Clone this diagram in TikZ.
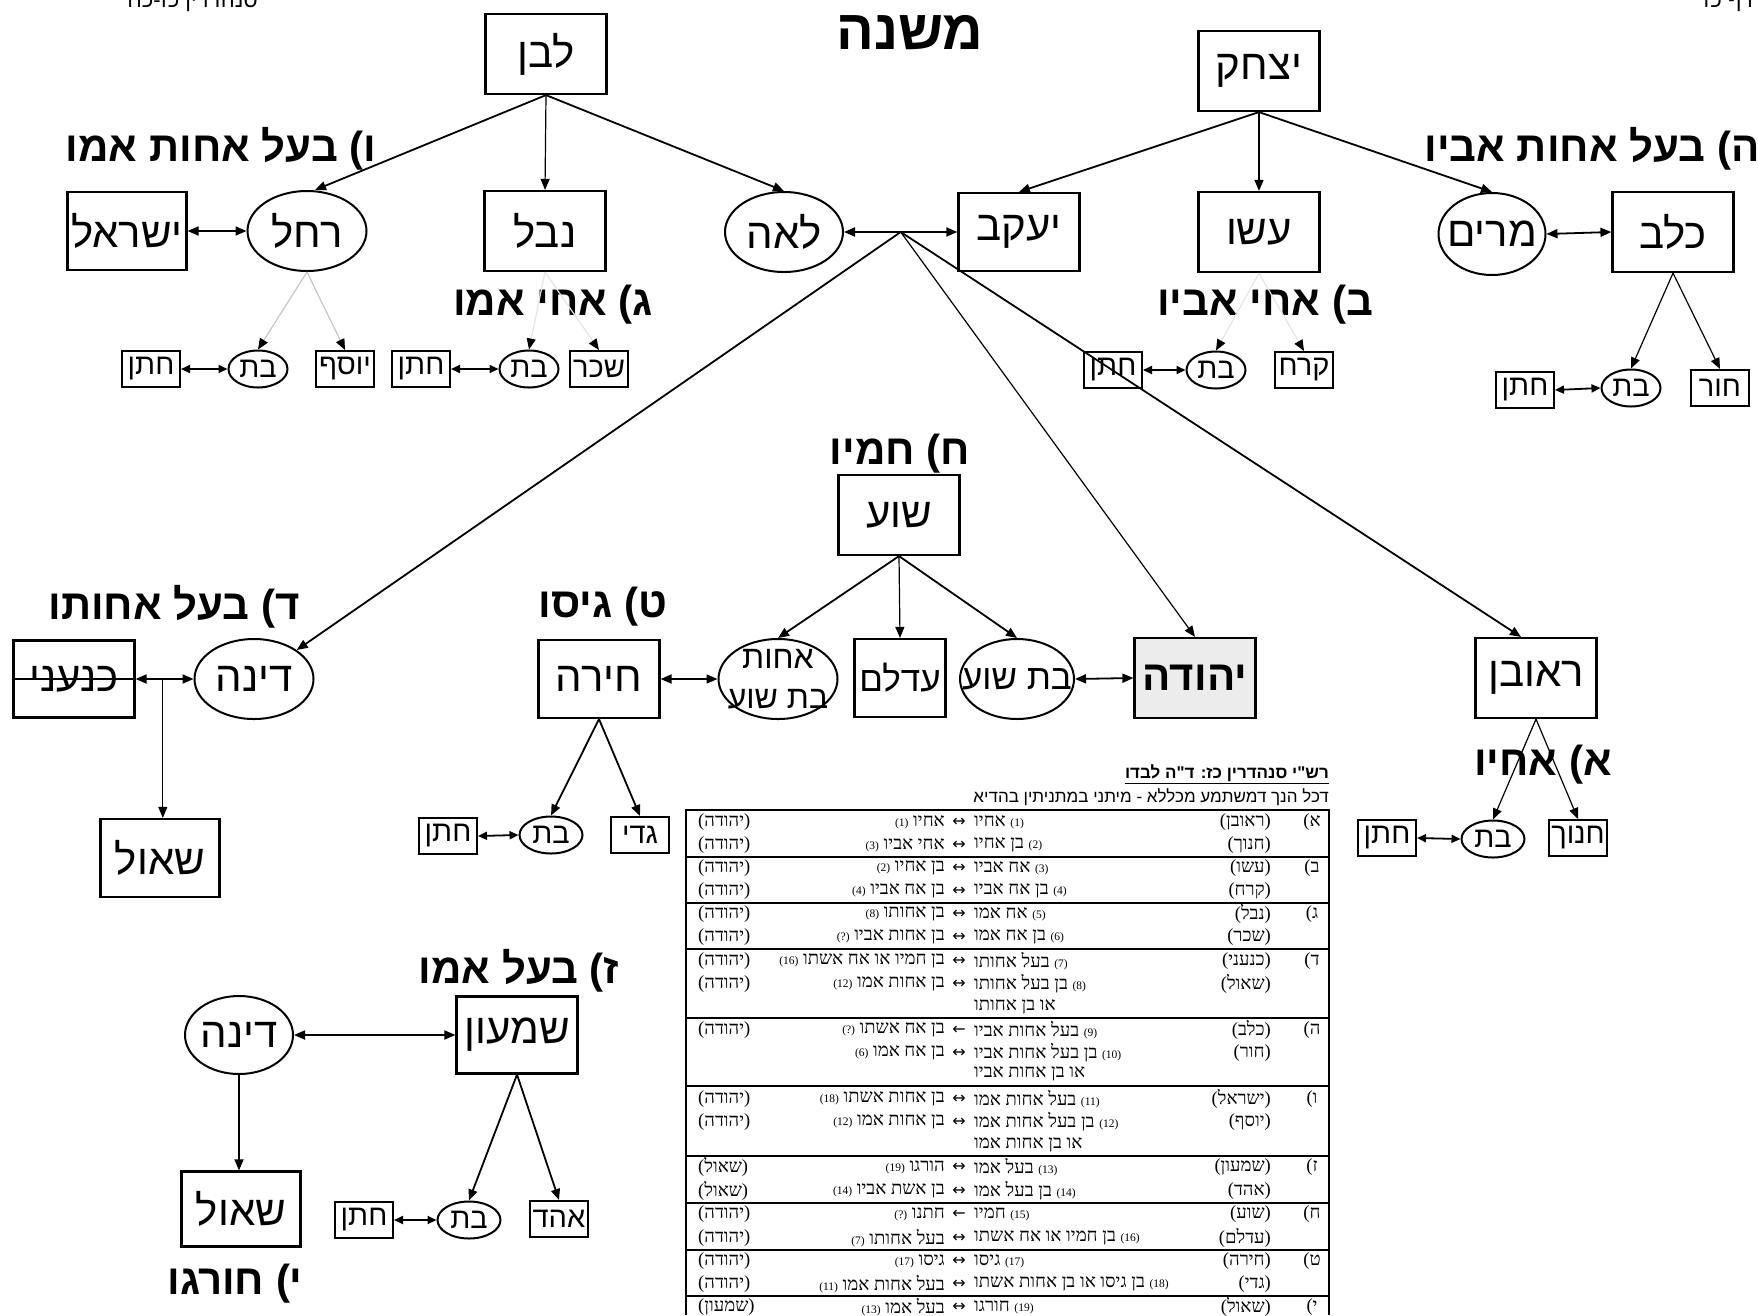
\documentclass[tikz,border=0pt]{standalone}
\usepackage{fontspec}
\TeXXeTstate=1
\newfontfamily\hebsans[Script=Hebrew]{Liberation Sans}
\newfontfamily\hebserif[Script=Hebrew]{Liberation Serif}
\newfontfamily\symf{DejaVu Sans}
\usetikzlibrary{positioning,arrows.meta,shapes.geometric}

\newcommand{\bigf}{\hebsans\fontsize{42}{48}\selectfont}
\newcommand{\smf}{\hebsans\fontsize{29}{34}\selectfont}
\newcommand{\lblf}{\hebsans\bfseries\fontsize{42}{48}\selectfont}
\newcommand{\tabf}{\hebserif\fontsize{18.5}{21}\selectfont}
\newcommand{\hz}[1]{\makebox[0pt]{\beginR #1\endR}}
\newcommand{\hb}[1]{\beginR #1\endR}
\newcommand{\nr}[1]{{\fontsize{11.5}{13}\selectfont(#1)}}

\begin{document}
\begin{tikzpicture}[x=1pt,y=-1pt,
    box/.style={draw, line width=2.2pt, minimum width=121pt, minimum height=80pt, inner sep=0pt, font=\bigf},
    oval/.style={draw, ellipse, line width=2pt, minimum width=119pt, minimum height=80pt, inner sep=0pt, font=\bigf},
    sbox/.style={draw, line width=2pt, minimum width=58pt, minimum height=36pt, inner sep=0pt, font=\smf},
    soval/.style={draw, ellipse, line width=2pt, minimum width=59pt, minimum height=37pt, inner sep=0pt, font=\smf},
    lbl/.style={font=\lblf, inner sep=0pt},
    tcell/.style={font=\tabf, inner sep=1pt},
    arr/.style={line width=1.8pt, -{Triangle[length=11pt,width=9pt]}},
    tarr/.style={line width=1.2pt, -{Triangle[length=11pt,width=9pt]}},
    garr/.style={line width=1.2pt, draw=gray!45, -{Triangle[length=11pt,width=9pt,color=black]}},
    farr/.style={line width=1.2pt, draw=gray!20, -{Triangle[length=11pt,width=9pt,color=black]}},
    darr/.style={line width=1.8pt, {Triangle[length=11pt,width=9pt]}-{Triangle[length=11pt,width=9pt]}},
    sdarr/.style={line width=1.8pt, {Triangle[length=9pt,width=8pt]}-{Triangle[length=9pt,width=8pt]}}]
        \useasboundingbox (0,0) rectangle (1758,1315);

        % page heads, cut by the page edge
        \draw (258,7) node[anchor=base east, inner sep=0pt, font=\hebsans\fontsize{22}{26}\selectfont] (pgl) {\hb{סנהדרין כז-כח}};
        \draw (1703,7) node[anchor=base west, inner sep=0pt, font=\hebsans\fontsize{22}{26}\selectfont] (pgr) {\hb{דף כז}};

        \draw (910,33) node[lbl, font=\hebsans\bfseries\fontsize{56}{60}\selectfont] (title) {\hb{משנה}};

        % top rows
        \draw (546,54) node[box] (lavan) {\hz{לבן}};
        \draw (1259,71) node[box] (yitzchak) {\hz{יצחק}};

        \draw (127,231) node[box, minimum width=119pt, minimum height=78pt] (yisrael) {\hz{ישראל}};
        \draw (307,231) node[oval] (rachel) {\hz{רחל}};
        \draw (545,231) node[box] (naval) {\hz{נבל}};
        \draw (784,232) node[oval, minimum width=118pt] (leah) {\hz{לאה}};
        \draw (1019,232) node[box, minimum height=78pt] (yaakov) {\hz{יעקב}};
        \draw (1259,232) node[box] (esav) {\hz{עשו}};
        \draw (1492,234) node[oval, minimum width=107pt, minimum height=82pt] (miriam) {\hz{מרים}};
        \draw (1673,232) node[box] (kalev) {\hz{כלב}};

        \draw (221,149) node[lbl] (lv) {\hb{ו) בעל אחות אמו}};
        \draw (1592,149) node[lbl] (lh) {\hb{ה) בעל אחות אביו}};
        \draw (553,305) node[lbl] (lg) {\hb{ג) אחי אמו}};
        \draw (1265,305) node[lbl] (lb) {\hb{ב) אחי אביו}};

        \draw (151,369) node[sbox] (chatan1) {\hz{חתן}};
        \draw (258,369) node[soval] (bat1) {\hz{בת}};
        \draw (345,369) node[sbox] (yosef) {\hz{יוסף}};
        \draw (421,369) node[sbox] (chatan2) {\hz{חתן}};
        \draw (529,369) node[soval] (bat2) {\hz{בת}};
        \draw (599,369) node[sbox] (sachar) {\hz{שכר}};
        \draw (1113,370) node[sbox] (chatan3) {\hz{חתן}};
        \draw (1216,370) node[soval] (bat3) {\hz{בת}};
        \draw (1304,370) node[sbox] (korach) {\hz{קרח}};
        \draw (1525,390) node[sbox] (chatan4) {\hz{חתן}};
        \draw (1631,388) node[soval] (bat4) {\hz{בת}};
        \draw (1720,388) node[sbox] (chur) {\hz{חור}};

        % middle rows
        \draw (900,454) node[lbl] (lch) {\hb{ח) חמיו}};
        \draw (899,515) node[box] (shua) {\hz{שוע}};

        \draw (174,607) node[lbl] (ld) {\hb{ד) בעל אחותו}};
        \draw (603,607) node[lbl] (lt) {\hb{ט) גיסו}};
        \draw (74,679) node[box, minimum height=77pt] (kenaani) {\hz{כנעני}};
        \draw (254,679) node[oval] (dina1) {\hz{דינה}};
        \draw (160,858) node[box, minimum width=119pt, minimum height=78pt] (shaul1) {\hz{שאול}};
        \draw (599,679) node[box, minimum height=78pt] (chira) {\hz{חירה}};
        \draw (778,679) node[oval, font=\hebsans\fontsize{32}{40}\selectfont] (achot)
        {\makebox[0pt]{\smash{\raisebox{-8pt}{\begin{tabular}{@{}c@{}}\hb{אחות}\\\hb{בת שוע}\end{tabular}}}}};
        \draw (900,678) node[box, minimum width=91pt, minimum height=78pt, font=\hebsans\fontsize{35}{40}\selectfont] (adlam) {\hz{עדלם}};
        \draw (1017,679) node[oval, minimum width=114pt, font=\hebsans\fontsize{35}{40}\selectfont] (batshua) {\hz{בת שוע}};
        \draw (1195,678) node[box, fill=gray!15, font=\bigf\bfseries] (yehuda) {\hz{יהודה}};
        \draw (1536,678) node[box] (reuven) {\hz{ראובן}};
        \draw (1543,765) node[lbl] (la) {\hb{א) אחיו}};

        \draw (448,836) node[sbox] (chatan5) {\hz{חתן}};
        \draw (551,835) node[soval, minimum width=63pt] (bat5) {\hz{בת}};
        \draw (640,835) node[sbox] (gadi) {\hz{גדי}};
        \draw (1387,838) node[sbox] (chatan6) {\hz{חתן}};
        \draw (1493,839) node[soval, minimum width=63pt] (bat6) {\hz{בת}};
        \draw (1578,838) node[sbox] (chanoch) {\hz{חנוך}};

        % lower left
        \draw (519,971) node[lbl] (lz) {\hb{ז) בעל אמו}};
        \draw (239,1035) node[oval, minimum width=108pt, minimum height=78pt] (dina2) {\hz{דינה}};
        \draw (517,1035) node[box, minimum height=77pt] (shimon) {\hz{שמעון}};
        \draw (241,1209) node[box, minimum width=119pt, minimum height=75pt] (shaul2) {\hz{שאול}};
        \draw (364,1220) node[sbox] (chatan7) {\hz{חתן}};
        \draw (469,1220) node[soval, minimum width=63pt] (bat7) {\hz{בת}};
        \draw (559,1219) node[sbox] (ahad) {\hz{אהד}};
        \draw (235,1284) node[lbl] (ly) {\hb{י) חורגו}};

        % connectors
        \draw[arr] (lavan.south) to ([xshift=8pt]rachel.north);
        \draw[tarr] (lavan.south) to (naval.north);
        \draw[arr] (lavan.south) to (leah.north);
        \draw[arr] (yitzchak.south) to (yaakov.north);
        \draw[tarr] (yitzchak.south) to (esav.north);
        \draw[arr] (yitzchak.south) to (miriam.north);
        \draw[darr] (yisrael.east) to (rachel.west);
        \draw[darr] (miriam.east) to (kalev.west);
        \draw[darr] (leah.east) -- coordinate (J) (yaakov.west);

        \draw[arr] (J) to (dina1.north east);
        \draw[tarr] (J) to (yehuda.north);
        \draw[arr] (J) to ([xshift=-15pt]reuven.north);

        \draw[garr] (rachel.south) to (bat1.north);
        \draw[garr] (rachel.south) to (yosef.north);
        \draw[farr] (naval.south) to (bat2.north);
        \draw[farr] (naval.south) to (sachar.north);
        \draw[farr] (esav.south) to (bat3.north);
        \draw[farr] (esav.south) to (korach.north);
        \draw[tarr] (kalev.south) to (bat4.north);
        \draw[tarr] (kalev.south) to (chur.north);
        \draw[sdarr] (bat1.west) to (chatan1.east);
        \draw[sdarr] (bat2.west) to (chatan2.east);
        \draw[sdarr] (bat3.west) to (chatan3.east);
        \draw[sdarr] (bat4.west) to (chatan4.east);

        \draw[arr] (shua.south) to (achot.north);
        \draw[tarr] (shua.south) to (adlam.north);
        \draw[arr] (shua.south) to (batshua.north);
        \draw[darr] (chira.east) to (achot.west);
        \draw[darr] (batshua.east) to (yehuda.west);

        \draw[line width=1.8pt] (kenaani.west) to (kenaani.east);
        \draw[darr] (kenaani.east) -- coordinate[pos=0.47] (sp) (dina1.west);
        \draw[tarr] (sp) to (sp |- shaul1.north);

        \draw[arr] (chira.south) to (bat5.north);
        \draw[arr] (chira.south) to (gadi.north);
        \draw[sdarr] (bat5.west) to (chatan5.east);
        \draw[tarr] (reuven.south) to (bat6.north);
        \draw[tarr] (reuven.south) to (chanoch.north);
        \draw[sdarr] (bat6.west) to (chatan6.east);

        \draw[darr] (dina2.east) to (shimon.west);
        \draw[tarr] (dina2.south) to (dina2.south |- shaul2.north);
        \draw[arr] (shimon.south) to (bat7.north);
        \draw[arr] (shimon.south) to (ahad.north);
        \draw[sdarr] (bat7.west) to (chatan7.east);

        % Rashi table
        \draw (1329,774) node[anchor=east, inner sep=0pt, font=\hebsans\bfseries\fontsize{17}{20}\selectfont] (hd1) {\underline{\hb{רש"י סנהדרין כז: ד"ה לבדו}}};
        \draw (1329,797) node[anchor=east, inner sep=0pt, font=\hebsans\fontsize{17}{20}\selectfont] (hd2) {\hb{דכל הנך דמשתמע מכללא - מיתני במתניתין בהדיא}};
        \draw[line width=1.5pt] (686,1315) -- (686,810) -- (1329,810) -- (1329,1315);
        \foreach \yy in {857,903,949,1018,1086,1156,1203,1250,1296}
          \draw[line width=1.3pt] (686,\yy) -- (1329,\yy);

        \foreach \yy/\cA/\cB/\cC/\cD/\cE/\cF [count=\i] in {
          822/א)/(ראובן)/\nr{1} אחיו/↔/אחיו \nr{1}/(יהודה),
          845//(חנוך)/\nr{2} בן אחיו/↔/אחי אביו \nr{3}/(יהודה),
          868/ב)/(עשו)/\nr{3} אח אביו/↔/בן אחיו \nr{2}/(יהודה),
          891//(קרח)/\nr{4} בן אח אביו/↔/בן אח אביו \nr{4}/(יהודה),
          914/ג)/(נבל)/\nr{5} אח אמו/↔/בן אחותו \nr{8}/(יהודה),
          937//(שכר)/\nr{6} בן אח אמו/↔/בן אחות אביו \nr{?}/(יהודה),
          961/ד)/(כנעני)/\nr{7} בעל אחותו/↔/בן חמיו או אח אשתו \nr{16}/(יהודה),
          984//(שאול)/\nr{8} בן בעל אחותו/↔/בן אחות אמו \nr{12}/(יהודה),
          1007///או בן אחותו///,
          1030/ה)/(כלב)/\nr{9} בעל אחות אביו/←/בן אח אשתו \nr{?}/(יהודה),
          1053//(חור)/\nr{10} בן בעל אחות אביו/↔/בן אח אמו \nr{6}/,
          1074///או בן אחות אביו///,
          1099/ו)/(ישראל)/\nr{11} בעל אחות אמו/↔/בן אחות אשתו \nr{18}/(יהודה),
          1122//(יוסף)/\nr{12} בן בעל אחות אמו/↔/בן אחות אמו \nr{12}/(יהודה),
          1145///או בן אחות אמו///,
          1167/ז)/(שמעון)/\nr{13} בעל אמו/↔/הורגו \nr{19}/(שאול),
          1191//(אהד)/\nr{14} בן בעל אמו/↔/בן אשת אביו \nr{14}/(שאול),
          1214/ח)/(שוע)/\nr{15} חמיו/←/חתנו \nr{?}/(יהודה),
          1238//(עדלם)/\nr{16} בן חמיו או אח אשתו/↔/בעל אחותו \nr{7}/(יהודה),
          1261/ט)/(חירה)/\nr{17} גיסו/↔/גיסו \nr{17}/(יהודה),
          1284//(גדי)/\nr{18} בן גיסו או בן אחות אשתו/↔/בעל אחות אמו \nr{11}/(יהודה),
          1307/י)/(שאול)/\nr{19} חורגו/↔/בעל אמו \nr{13}/(שמעון)}
        {
          \draw (1312,\yy) node[tcell] (ta\i) {\hb{\cA}};
          \draw (1272,\yy) node[tcell, anchor=east] (tb\i) {\hb{\cB}};
          \draw (973,\yy) node[tcell, anchor=west] (tc\i) {\hb{\cC}};
          \draw (959,\yy) node[tcell, font=\symf\fontsize{16}{18}\selectfont] (td\i) {\cD};
          \draw (946,\yy) node[tcell, anchor=east] (te\i) {\hb{\cE}};
          \draw (697,\yy) node[tcell, anchor=west] (tf\i) {\hb{\cF}};
        }
      \end{tikzpicture}
\end{document}
